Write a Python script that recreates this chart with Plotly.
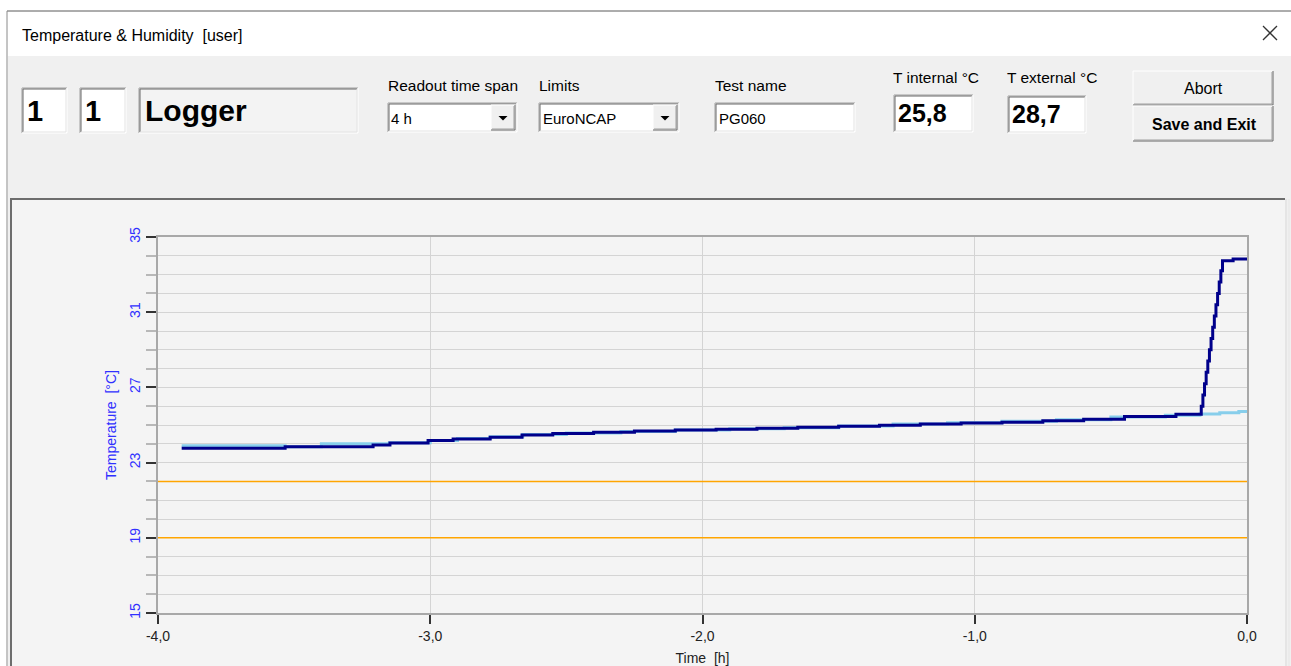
import plotly.graph_objects as go

# ---------------- data ----------------
time_ext = [-3.913, -3.533, -3.21, -3.148, -3.008, -2.916, -2.78, -2.663, -2.55, -2.40,
            -2.25, -2.10, -1.95, -1.80, -1.65, -1.50, -1.35, -1.20, -1.05, -0.90,
            -0.75, -0.60, -0.45, -0.261, -0.168, -0.162, -0.156, -0.150, -0.144,
            -0.138, -0.132, -0.126, -0.120, -0.114, -0.108, -0.102, -0.096, -0.090,
            -0.051, 0.0]
temp_ext = [23.76, 23.84, 23.94, 24.04, 24.17, 24.26, 24.35, 24.47, 24.55, 24.62,
            24.68, 24.73, 24.78, 24.83, 24.88, 24.93, 24.99, 25.05, 25.10, 25.15,
            25.22, 25.30, 25.45, 25.57, 26.0, 26.6, 27.2, 27.8, 28.4,
            29.0, 29.6, 30.2, 30.8, 31.4, 32.0, 32.6, 33.2, 33.74,
            33.83, 33.83]

time_int = [-3.913, -3.533, -3.40, -3.15, -3.00, -2.90, -2.78, -2.66, -2.50, -2.30,
            -2.10, -1.90, -1.70, -1.50, -1.30, -1.10, -0.90, -0.70, -0.50, -0.30,
            -0.173, -0.10, -0.03, 0.0]
temp_int = [23.90, 23.84, 24.00, 24.06, 24.18, 24.28, 24.37, 24.50, 24.58, 24.66,
            24.74, 24.80, 24.86, 24.95, 25.05, 25.12, 25.20, 25.28, 25.42, 25.52,
            25.58, 25.65, 25.72, 25.75]

limit_values = [22.0, 19.0]
limit_span = [-4.0, 0.0]

x_ticks = [-4.0, -3.0, -2.0, -1.0, 0.0]
x_tick_labels = ["-4,0", "-3,0", "-2,0", "-1,0", "0,0"]
y_ticks = [15, 19, 23, 27, 31, 35]

# ---------------- layout geometry ----------------
W, H = 1291, 666
ML, MR, MT, MB = 158, 44, 237, 53
PW, PH = W - ML - MR, H - MT - MB


def fx(X):
    return (X - ML) / PW


def fy(Y):
    return 1 - (Y - MT) / PH


shapes = []
annotations = []


def rect(x0, y0, x1, y1, fill, lc=None, lw=0):
    shapes.append(dict(type="rect", xref="paper", yref="paper",
                       x0=fx(x0), x1=fx(x1), y0=fy(y1), y1=fy(y0),
                       fillcolor=fill, line=dict(width=lw, color=lc or fill),
                       layer="below"))


def seg(x0, y0, x1, y1, color, w=1):
    shapes.append(dict(type="line", xref="paper", yref="paper",
                       x0=fx(x0), x1=fx(x1), y0=fy(y0), y1=fy(y1),
                       line=dict(color=color, width=w), layer="below"))


def sunken(x0, y0, x1, y1, fill="#ffffff"):
    rect(x0, y0, x1, y1, fill)
    seg(x0, y0, x1, y0, "#a0a0a0")
    seg(x0, y0, x0, y1, "#a0a0a0")
    seg(x0 + 1, y0 + 1, x1 - 1, y0 + 1, "#696969")
    seg(x0 + 1, y0 + 1, x0 + 1, y1 - 1, "#696969")
    seg(x0, y1, x1, y1, "#ffffff")
    seg(x1, y0, x1, y1, "#ffffff")
    seg(x0 + 1, y1 - 1, x1 - 1, y1 - 1, "#e3e3e3")
    seg(x1 - 1, y0 + 1, x1 - 1, y1 - 1, "#e3e3e3")


def raised(x0, y0, x1, y1, fill="#f0f0f0"):
    rect(x0, y0, x1, y1, fill)
    seg(x0, y0, x1, y0, "#ffffff")
    seg(x0, y0, x0, y1, "#ffffff")
    seg(x0, y1, x1, y1, "#696969")
    seg(x1, y0, x1, y1, "#696969")
    seg(x0 + 1, y1 - 1, x1 - 1, y1 - 1, "#a0a0a0")
    seg(x1 - 1, y0 + 1, x1 - 1, y1 - 1, "#a0a0a0")


def arrow(cx, cy):
    pts = [(cx - 4.5, cy - 2), (cx + 4.5, cy - 2), (cx, cy + 2.5)]
    path = "M " + " L ".join(f"{fx(a)},{fy(b)}" for a, b in pts) + " Z"
    shapes.append(dict(type="path", xref="paper", yref="paper", path=path,
                       fillcolor="#000000", line=dict(width=0), layer="below"))


def text(X, Y, s, size=15.5, bold=False, color="#000000", anchor="left"):
    annotations.append(dict(xref="paper", yref="paper", x=fx(X), y=fy(Y),
                            text=f"<b>{s}</b>" if bold else s, showarrow=False,
                            xanchor=anchor, yanchor="middle",
                            font=dict(family="Liberation Sans, Arial", size=size,
                                      color=color)))


# window & title bar
rect(0, 0, W, H, "#ffffff")
rect(8, 12, W, 56, "#ffffff")
seg(7, 11, W, 11, "#5a5a5a")
seg(7, 11, 7, H, "#8a8a8a")
# header
rect(8, 56, W, 198, "#f0f0f0")
rect(8, 198, W, H, "#f0f0f0")
# chart panel
rect(10, 199, 1285, H, "#f4f4f4")
seg(10, 199, 1285, 199, "#6d6d6d", 2)
seg(11, 199, 11, H, "#6d6d6d", 2)
seg(1286, 199, 1286, H, "#dadada", 1)
seg(1289, 199, 1289, H, "#e6e6e6", 1)

# close X
seg(1263, 26, 1277, 40, "#333333", 1.3)
seg(1263, 40, 1277, 26, "#333333", 1.3)

text(20, 35, "Temperature &amp; Humidity\u00a0 [user]", size=16)

# logger boxes
sunken(22, 88, 67, 133)
text(25, 111, "1", size=29, bold=True)
sunken(80, 88, 126, 133)
text(83, 111, "1", size=29, bold=True)
sunken(139, 88, 358, 133, fill="#f3f3f3")
text(143, 111, "Logger", size=30, bold=True)

# combos
text(386, 86, "Readout time span")
sunken(388, 103, 517, 132)
raised(491, 105, 515, 130, fill="#f0f0f0")
arrow(503, 118)
text(389, 118, "4 h", size=15)

text(537, 86, "Limits")
sunken(539, 103, 679, 132)
raised(653, 105, 677, 130, fill="#f0f0f0")
arrow(665, 118)
text(541, 118, "EuroNCAP", size=15)

text(713, 86, "Test name")
sunken(715, 103, 855, 132)
text(717, 118, "PG060", size=15)

text(891, 77, "T internal °C")
sunken(894, 95, 973, 132)
text(896, 113, "25,8", size=25, bold=True)
text(1005, 77, "T external °C")
sunken(1008, 96, 1086, 133)
text(1010, 114, "28,7", size=25, bold=True)

raised(1133, 71, 1273, 105)
text(1203, 88, "Abort", size=16, anchor="center")
raised(1133, 106, 1273, 141)
text(1204, 124, "Save and Exit", size=16, bold=True, anchor="center")

# ---------------- traces ----------------
fig = go.Figure()
for v in limit_values:
    fig.add_trace(go.Scatter(x=limit_span, y=[v, v], mode="lines",
                             line=dict(color="#ffa500", width=1.5),
                             hoverinfo="skip", showlegend=False))
fig.add_trace(go.Scatter(x=time_int, y=temp_int, mode="lines", line_shape="hv",
                         line=dict(color="#87ceeb", width=3), name="T internal",
                         showlegend=False))
fig.add_trace(go.Scatter(x=time_ext, y=temp_ext, mode="lines", line_shape="hv",
                         line=dict(color="#00008b", width=3), name="T external",
                         showlegend=False))

chart_font = "Liberation Sans, Arial"
fig.update_layout(
    width=W, height=H,
    margin=dict(l=ML, r=MR, t=MT, b=MB, pad=0, autoexpand=False),
    paper_bgcolor="#ffffff", plot_bgcolor="#f4f4f4",
    separators=",.",
    shapes=shapes, annotations=annotations,
    showlegend=False,
    xaxis=dict(range=[-4, 0], tickmode="array", tickvals=x_ticks,
               ticktext=x_tick_labels,
               automargin=False,
               ticks="outside", ticklen=9, tickcolor="#333333", tickwidth=1.5,
               showgrid=True, gridcolor="#d4d4d4", gridwidth=1,
               showline=True, linecolor="#a8a8a8", linewidth=2, mirror=True,
               zeroline=False,
               tickfont=dict(family=chart_font, size=14, color="#222222"),
               title=dict(text="Time\u00a0 [h]", standoff=11,
                          font=dict(family=chart_font, size=14, color="#222222"))),
    yaxis=dict(range=[15, 35], tickvals=y_ticks, tickangle=-90,
               automargin=False,
               ticks="outside", ticklen=10, tickcolor="#333333", tickwidth=1.5,
               showgrid=True, gridcolor="#d4d4d4", gridwidth=1,
               minor=dict(dtick=1, tick0=15, ticks="outside", ticklen=10,
                          tickcolor="#b8b8b8", showgrid=True,
                          gridcolor="#d4d4d4", gridwidth=1),
               showline=True, linecolor="#a8a8a8", linewidth=2, mirror=True,
               zeroline=False,
               tickfont=dict(family=chart_font, size=14, color="#3030ff"),
               title=dict(text="Temperature\u00a0 [°C]", standoff=8,
                          font=dict(family=chart_font, size=14, color="#3030ff"))),
)

fig.write_html("out.html")
